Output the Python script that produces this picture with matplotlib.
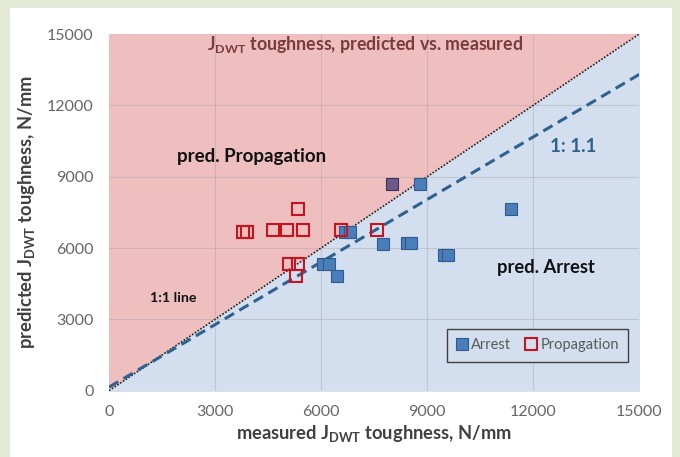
import matplotlib.pyplot as plt
from matplotlib.patches import Rectangle

plt.rcParams['font.family'] = ['Lato', 'DejaVu Sans']
plt.rcParams['mathtext.default'] = 'regular'

# measured vs predicted toughness (N/mm)
arrest_x = [6680, 6820, 7740, 6060, 6220, 6460, 8800, 8420, 8540, 9480, 9600, 11370]
arrest_y = [6660, 6660, 6180, 5310, 5310, 4820, 8680, 6200, 6200, 5710, 5710, 7630]
prop_x = [3800, 3900, 4650, 5030, 5500, 5350, 5100, 5350, 5300, 6560, 7570]
prop_y = [6660, 6660, 6770, 6770, 6770, 7640, 5310, 5310, 4840, 6770, 6770]
both_x = [8010]
both_y = [8680]

line11_x = [0, 15000]
line11_y = [0, 15000]
ratio_x = [0, 15000]
ratio_y = [150, 13300]

ticks = [0, 3000, 6000, 9000, 12000, 15000]

fig = plt.figure(figsize=(6.8, 4.57), dpi=100, facecolor='#e2ead6')
fig.patches.append(Rectangle((10/680, 0), 662/680, 449/457, transform=fig.transFigure,
                             facecolor='white', edgecolor='none', zorder=-10))
ax = fig.add_axes([0.1603, 0.1451, 0.7798, 0.7805])
ax.set_xlim(0, 15000)
ax.set_ylim(0, 15000)

# shaded zones either side of the 1:1 line
ax.fill_between(line11_x, line11_y, 15000, color='#efbfc0', zorder=0)
ax.fill_between(line11_x, 0, line11_y, color='#d3dfee', zorder=0)

for t in ticks[1:-1]:
    ax.axvline(t, color='#9a9a9a', lw=0.8, alpha=0.35, zorder=1)
    ax.axhline(t, color='#9a9a9a', lw=0.8, alpha=0.35, zorder=1)

ax.plot(line11_x, line11_y, color='#222222', ls=(0, (1, 1)), lw=1.2, zorder=2)
ax.plot(ratio_x, ratio_y, color='#2e6190', ls=(0, (3.5, 2)), lw=2.2, zorder=2)

ax.plot(arrest_x, arrest_y, ls='none', marker='s', ms=8, mfc='#4a7ebb',
        mec='#2f5a8a', mew=0.8, label='Arrest', zorder=4)
ax.plot(prop_x, prop_y, ls='none', marker='s', ms=8, mfc='none',
        mec='#c8141e', mew=1.5, label='Propagation', zorder=5)
ax.plot(both_x, both_y, ls='none', marker='s', ms=8, mfc='#6a5a8c',
        mec='#3b3555', mew=0.8, zorder=4)

for s in ax.spines.values():
    s.set_visible(False)
ax.set_xticks(ticks)
ax.set_yticks(ticks)
ax.tick_params(length=0, labelsize=11.5, labelcolor='#666666')
ax.tick_params(axis='x', pad=10)
ax.tick_params(axis='y', pad=11)

ax.set_xlabel('measured J$_{DWT}$ toughness, N/mm', fontsize=13.2, fontweight='bold',
              color='#404040', labelpad=3)
ax.set_ylabel('predicted J$_{DWT}$ toughness, N/mm', fontsize=13.2, fontweight='bold',
              color='#404040', labelpad=7)

ax.text(7250, 14540, 'J$_{DWT}$ toughness, predicted vs. measured', ha='center', va='center',
        fontsize=12.8, fontweight='bold', color='#7a3b3b')
ax.text(4020, 9840, 'pred. Propagation', ha='center', va='center', fontsize=13.5,
        fontweight='bold', color='#111111')
ax.text(1810, 3910, '1:1 line', ha='center', va='center', fontsize=10.3,
        fontweight='bold', color='#111111')
ax.text(13120, 10290, '1: 1.1', ha='center', va='center', fontsize=13.5,
        fontweight='bold', color='#2e6190')
ax.text(12360, 5200, 'pred. Arrest', ha='center', va='center', fontsize=13.2,
        fontweight='bold', color='#111111')

leg = ax.legend(loc='lower right', bbox_to_anchor=(0.979, 0.081), ncol=2, fontsize=10.5,
                frameon=True, fancybox=False, borderaxespad=0, handlelength=0.7,
                handletextpad=0.3, columnspacing=1.0, borderpad=0.65)
leg.get_frame().set_edgecolor('#404040')
leg.get_frame().set_facecolor('#d3dfee')
leg.get_frame().set_alpha(1)
for t in leg.get_texts():
    t.set_color('#595959')

fig.savefig('out.png', dpi=100, facecolor=fig.get_facecolor())
